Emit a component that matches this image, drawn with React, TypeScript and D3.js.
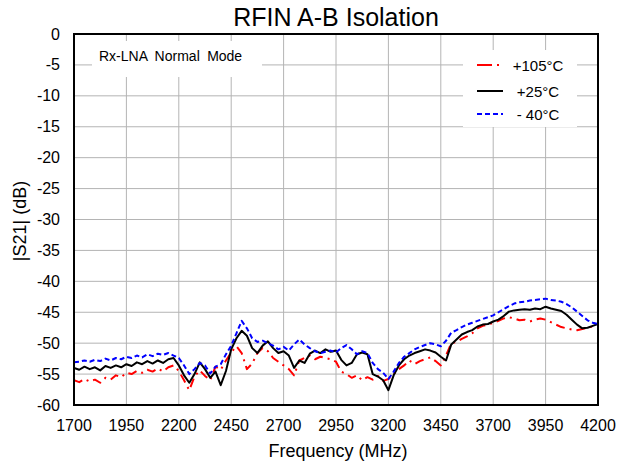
import React from "react";
import * as d3 from "d3";

const freqStart = 1700;
const freqStep = 25;

const hot105: number[] = [
  -56.0, -56.3, -55.8, -56.2, -55.9, -56.4, -55.6, -55.9, -55.2, -55.5,
  -54.8, -55.0, -54.5, -54.8, -54.3, -54.6, -54.1, -54.6, -53.9, -53.6,
  -54.5, -56.0, -57.6, -55.4, -54.4, -55.3, -56.0, -53.8, -54.3, -52.8,
  -51.5, -50.5, -51.6, -54.2, -53.3, -51.6, -50.8, -51.3, -52.4, -53.0,
  -53.6, -54.2, -55.2, -52.8, -52.4, -52.0, -52.6, -52.2, -52.4, -52.6,
  -53.0, -54.6, -55.0, -55.6, -55.2, -56.0, -55.5, -55.9, -55.3, -56.1,
  -55.8, -55.0, -54.2, -53.6, -52.8, -53.4, -52.9, -52.6, -52.3, -52.9,
  -53.6, -52.0, -50.0, -49.8, -49.3, -48.9, -48.4, -47.6, -47.2, -47.0,
  -46.7, -46.4, -46.0, -45.8, -46.0, -46.3, -46.2, -46.5, -46.2, -46.0,
  -46.2, -46.6, -47.0, -47.4, -47.6, -47.8, -47.9, -47.7, -47.5, -47.3,
  -47.1,
];

const room25: number[] = [
  -54.0, -54.3, -53.8, -54.2, -53.9, -54.4, -53.7, -54.0, -53.6, -53.9,
  -53.4, -53.7, -53.1, -53.4, -52.9, -53.3, -52.8, -53.2, -52.6, -52.4,
  -53.6, -55.2, -56.4, -55.0, -53.1, -54.2, -55.6, -54.6, -56.8, -54.5,
  -51.0, -49.2, -48.0, -48.8, -50.8, -51.6, -50.4, -49.7, -50.8, -51.6,
  -51.3, -52.0, -54.0, -52.8, -53.2, -51.7, -51.2, -51.6, -51.0, -51.4,
  -51.2, -52.7, -53.6, -53.2, -51.8, -51.5, -51.8, -55.0, -55.4, -56.0,
  -57.6, -55.2, -53.6, -52.6, -52.0, -51.6, -51.3, -51.0, -51.2, -51.5,
  -52.2, -52.8, -50.2, -49.4, -48.6, -48.2, -47.9, -47.3, -47.0, -46.9,
  -46.5, -46.2, -45.6, -44.9, -44.7, -44.6, -44.5, -44.6, -44.4, -44.5,
  -44.1, -44.4, -44.6, -44.8, -45.4, -46.2, -47.0, -47.6, -47.5, -47.2,
  -46.9,
];

const cold40: number[] = [
  -53.1, -53.0, -52.8, -53.0, -52.7, -52.9, -52.5, -52.8, -52.4, -52.6,
  -52.2, -52.4, -52.0, -52.3, -51.8, -52.1, -51.7, -51.9, -51.6, -52.0,
  -52.4, -53.6, -55.0, -54.2, -53.2, -53.6, -54.9, -53.8, -53.4, -51.8,
  -50.4, -48.4, -46.4, -47.6, -49.2, -49.8, -49.6, -50.0, -50.4, -51.0,
  -50.6, -51.2, -50.2, -49.4, -50.2, -50.8, -51.3, -51.6, -51.4, -51.2,
  -51.5, -50.8, -50.3, -51.0, -51.8, -51.3, -51.6, -53.2, -54.2, -54.8,
  -55.8, -54.6, -53.2, -52.2, -51.6, -51.0, -50.6, -50.3, -50.0, -50.2,
  -50.5, -49.6, -48.3, -47.9, -47.4, -47.0, -46.7, -46.4, -46.1, -45.8,
  -45.5, -45.0, -44.5, -44.0, -43.6, -43.4, -43.3, -43.1, -43.0, -42.9,
  -42.8, -43.0, -43.1, -43.3, -43.7, -44.2, -44.9, -45.6, -46.3, -46.7,
  -46.9,
];

const xTicks = [1700, 1950, 2200, 2450, 2700, 2950, 3200, 3450, 3700, 3950, 4200];
const yTicks = [0, -5, -10, -15, -20, -25, -30, -35, -40, -45, -50, -55, -60];

const legendLabels = ["+105°C", "+25°C", "- 40°C"];

const W = 618;
const H = 463;
const left = 74;
const right = 598;
const top = 34;
const bottom = 405;

export default function App() {
  const x = d3.scaleLinear().domain([1700, 4200]).range([left, right]);
  const y = d3.scaleLinear().domain([-60, 0]).range([bottom, top]);

  const line = d3
    .line<number>()
    .x((_, i) => x(freqStart + i * freqStep))
    .y((d) => y(d));

  const series = [
    { data: hot105, color: "#FF0000", dash: "9,5,2,5", legendDash: "15,5,2,5" },
    { data: room25, color: "#000000", dash: "", legendDash: "" },
    { data: cold40, color: "#0000FF", dash: "5,3", legendDash: "5,3" },
  ];

  const font = "Liberation Sans, Arial, sans-serif";

  return (
    <svg
      width={W}
      height={H}
      style={{ position: "absolute", left: 0, top: 0, background: "#fff" }}
      fontFamily={font}
    >
      <rect x={0} y={0} width={W} height={H} fill="#fff" />
      {xTicks.map((t) => (
        <line key={"gx" + t} x1={x(t)} x2={x(t)} y1={top} y2={bottom} stroke="#B4B4B4" strokeWidth={1} />
      ))}
      {yTicks.map((t) => (
        <line key={"gy" + t} x1={left} x2={right} y1={y(t)} y2={y(t)} stroke="#B4B4B4" strokeWidth={1} />
      ))}
      <rect x={92} y={41} width={170} height={36} fill="#fff" />
      <text x={99} y={61} fontSize={14} wordSpacing={3.5} fill="#000">
        Rx-LNA Normal Mode
      </text>
      <rect x={463} y={50} width={114} height={77} fill="#fff" />
      <defs>
        <clipPath id="clip">
          <rect x={left} y={top} width={right - left} height={bottom - top} />
        </clipPath>
      </defs>
      <g clipPath="url(#clip)">
        {series.map((s, i) => (
          <path
            key={i}
            d={line(s.data) || ""}
            fill="none"
            stroke={s.color}
            strokeWidth={2}
            strokeDasharray={s.dash || undefined}
            strokeLinejoin="round"
          />
        ))}
      </g>
      {series.map((s, i) => {
        const ly = [65, 91, 114][i];
        return (
          <g key={"lg" + i}>
            <line x1={477} x2={503} y1={ly} y2={ly} stroke={s.color} strokeWidth={2} strokeDasharray={s.legendDash || undefined} />
            <text x={538} y={ly} fontSize={15} textAnchor="middle" dominantBaseline="central" fill="#000">
              {legendLabels[i]}
            </text>
          </g>
        );
      })}
      <rect x={left} y={top} width={right - left} height={bottom - top} fill="none" stroke="#000" strokeWidth={2} />
      {xTicks.map((t) => (
        <text key={"tx" + t} x={x(t)} y={425} fontSize={16} textAnchor="middle" dominantBaseline="central" fill="#000">
          {t}
        </text>
      ))}
      {yTicks.map((t) => (
        <text key={"ty" + t} x={60} y={y(t)} fontSize={16} textAnchor="end" dominantBaseline="central" fill="#000">
          {t}
        </text>
      ))}
      <text x={336} y={26} fontSize={25} textAnchor="middle" fill="#000">
        RFIN A-B Isolation
      </text>
      <text x={338} y={457} fontSize={18} textAnchor="middle" fill="#000">
        Frequency (MHz)
      </text>
      <text
        transform={`translate(26,221) rotate(-90)`}
        fontSize={18}
        textAnchor="middle"
        fill="#000"
      >
        |S21| (dB)
      </text>
    </svg>
  );
}
